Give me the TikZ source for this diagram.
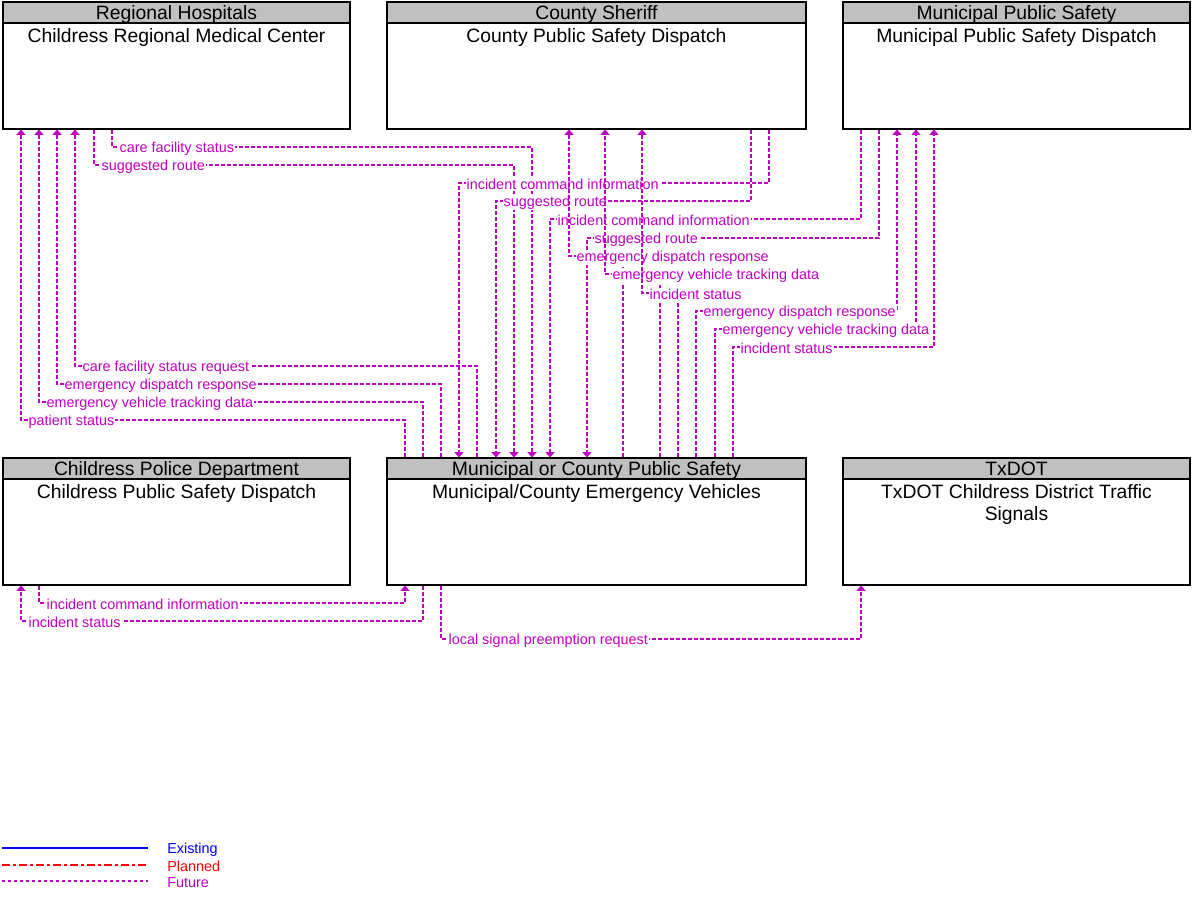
\documentclass[tikz,border=0pt]{standalone}
\usepackage{fontspec}
\setmainfont{Liberation Sans}
\usetikzlibrary{arrows.meta,calc}
\definecolor{flowmag}{RGB}{192,0,192}
\definecolor{headgray}{RGB}{192,192,192}
\definecolor{legblue}{RGB}{0,0,255}
\definecolor{legred}{RGB}{255,0,0}

\begin{document}
\begin{tikzpicture}[x=0.75pt, y=-0.75pt,
  sysbox/.style={draw=black, line width=0.8pt, fill=white, minimum height=95.25pt, inner sep=0pt},
  syshead/.style={draw=black, line width=0.8pt, fill=headgray, minimum height=15.75pt, inner sep=0pt, anchor=north, text height=11.5pt, text depth=1.5pt, font=\fontsize{14.5pt}{16.5pt}\selectfont},
  systext/.style={anchor=north, align=center, inner sep=2.5pt, yshift=-0.75pt, font=\fontsize{14.5pt}{16.5pt}\selectfont},
  flow/.style={draw=flowmag, line width=0.85pt, dash pattern=on 3pt off 1.5pt, -{Triangle[width=6.75pt,length=4pt]}},
  flowlbl/.style={anchor=west, fill=white, inner sep=0.8pt, xshift=4.5pt, yshift=-1.2pt, text=flowmag, font=\fontsize{10.8pt}{12pt}\selectfont},
  legtext/.style={anchor=west, inner sep=0pt, yshift=-1.2pt, font=\fontsize{10.8pt}{12pt}\selectfont}]
  \useasboundingbox (0,0) rectangle (1199,898);

  % Top row
  \node[sysbox, minimum width=260.25pt] (hosp) at (176.5,65.5) {};
  \node[syshead, minimum width=260.25pt] (hosphd) at (hosp.north) {Regional Hospitals};
  \node[systext] (hosptx) at (hosphd.south) {Childress Regional Medical Center};

  \node[sysbox, minimum width=314.25pt] (sheriff) at (596.5,65.5) {};
  \node[syshead, minimum width=314.25pt] (sheriffhd) at (sheriff.north) {County Sheriff};
  \node[systext] (sherifftx) at (sheriffhd.south) {County Public Safety Dispatch};

  \node[sysbox, minimum width=260.25pt] (mps) at (1016.5,65.5) {};
  \node[syshead, minimum width=260.25pt] (mpshd) at (mps.north) {Municipal Public Safety};
  \node[systext] (mpstx) at (mpshd.south) {Municipal Public Safety Dispatch};

  % Bottom row
  \node[sysbox, minimum width=260.25pt] (police) at (176.5,521.5) {};
  \node[syshead, minimum width=260.25pt] (policehd) at (police.north) {Childress Police Department};
  \node[systext] (policetx) at (policehd.south) {Childress Public Safety Dispatch};

  \node[sysbox, minimum width=314.25pt] (veh) at (596.5,521.5) {};
  \node[syshead, minimum width=314.25pt] (vehhd) at (veh.north) {Municipal or County Public Safety};
  \node[systext] (vehtx) at (vehhd.south) {Municipal/County Emergency Vehicles};

  \node[sysbox, minimum width=260.25pt] (txdot) at (1016.5,521.5) {};
  \node[syshead, minimum width=260.25pt] (txdothd) at (txdot.north) {TxDOT};
  \node[systext] (txdottx) at (txdothd.south) {TxDOT Childress District Traffic\\Signals};

  % Hospital -> vehicles
  \draw[flow] (hosp.south -| 112,0) -- (112,147) node[flowlbl] {care facility status} -- (532,147) -- (veh.north -| 532,0);
  \draw[flow] (hosp.south -| 94,0) -- (94,165) node[flowlbl] {suggested route} -- (514,165) -- (veh.north -| 514,0);
  % Dispatch -> vehicles
  \draw[flow] (sheriff.south -| 769,0) -- (769,183) -- (459,183) node[flowlbl] {incident command information} -- (veh.north -| 459,0);
  \draw[flow] (sheriff.south -| 751,0) -- (751,201) -- (496,201) node[flowlbl] {suggested route} -- (veh.north -| 496,0);
  \draw[flow] (mps.south -| 861,0) -- (861,219) -- (550,219) node[flowlbl] {incident command information} -- (veh.north -| 550,0);
  \draw[flow] (mps.south -| 879,0) -- (879,238) -- (587,238) node[flowlbl] {suggested route} -- (veh.north -| 587,0);
  % Vehicles -> sheriff
  \draw[flow] (veh.north -| 623,0) -- (623,256) -- (569,256) node[flowlbl] {emergency dispatch response} -- (sheriff.south -| 569,0);
  \draw[flow] (veh.north -| 660,0) -- (660,274) -- (605,274) node[flowlbl] {emergency vehicle tracking data} -- (sheriff.south -| 605,0);
  \draw[flow] (veh.north -| 678,0) -- (678,293) -- (642,293) node[flowlbl] {incident status} -- (sheriff.south -| 642,0);
  % Vehicles -> municipal dispatch
  \draw[flow] (veh.north -| 696,0) -- (696,311) node[flowlbl] {emergency dispatch response} -- (897,311) -- (mps.south -| 897,0);
  \draw[flow] (veh.north -| 715,0) -- (715,329) node[flowlbl] {emergency vehicle tracking data} -- (916,329) -- (mps.south -| 916,0);
  \draw[flow] (veh.north -| 733,0) -- (733,347) node[flowlbl] {incident status} -- (934,347) -- (mps.south -| 934,0);
  % Vehicles -> hospital
  \draw[flow] (veh.north -| 477,0) -- (477,366) -- (75,366) node[flowlbl] {care facility status request} -- (hosp.south -| 75,0);
  \draw[flow] (veh.north -| 441,0) -- (441,384) -- (57,384) node[flowlbl] {emergency dispatch response} -- (hosp.south -| 57,0);
  \draw[flow] (veh.north -| 423,0) -- (423,402) -- (39,402) node[flowlbl] {emergency vehicle tracking data} -- (hosp.south -| 39,0);
  \draw[flow] (veh.north -| 405,0) -- (405,420) -- (21,420) node[flowlbl] {patient status} -- (hosp.south -| 21,0);
  % Bottom flows
  \draw[flow] (police.south -| 39,0) -- (39,603) node[flowlbl] {incident command information} -- (405,603) -- (veh.south -| 405,0);
  \draw[flow] (veh.south -| 423,0) -- (423,621) -- (21,621) node[flowlbl] {incident status} -- (police.south -| 21,0);
  \draw[flow] (veh.south -| 441,0) -- (441,639) node[flowlbl] {local signal preemption request} -- (861,639) -- (txdot.south -| 861,0);

  % Legend
  \draw[legblue, line width=0.85pt] (2,848) -- (148,848);
  \draw[legred, line width=0.85pt, dash pattern=on 6pt off 2.25pt on 2.25pt off 2.25pt] (2,865) -- (148,865);
  \draw[flowmag, line width=0.85pt, dash pattern=on 2.25pt off 2.25pt] (2,881) -- (148,881);
  \node[legtext, text=legblue] (legexist) at (167,848) {Existing};
  \node[legtext, text=legred] (legplan) at (167,865) {Planned};
  \node[legtext, text=flowmag] (legfut) at (167,881) {Future};
\end{tikzpicture}
\end{document}
